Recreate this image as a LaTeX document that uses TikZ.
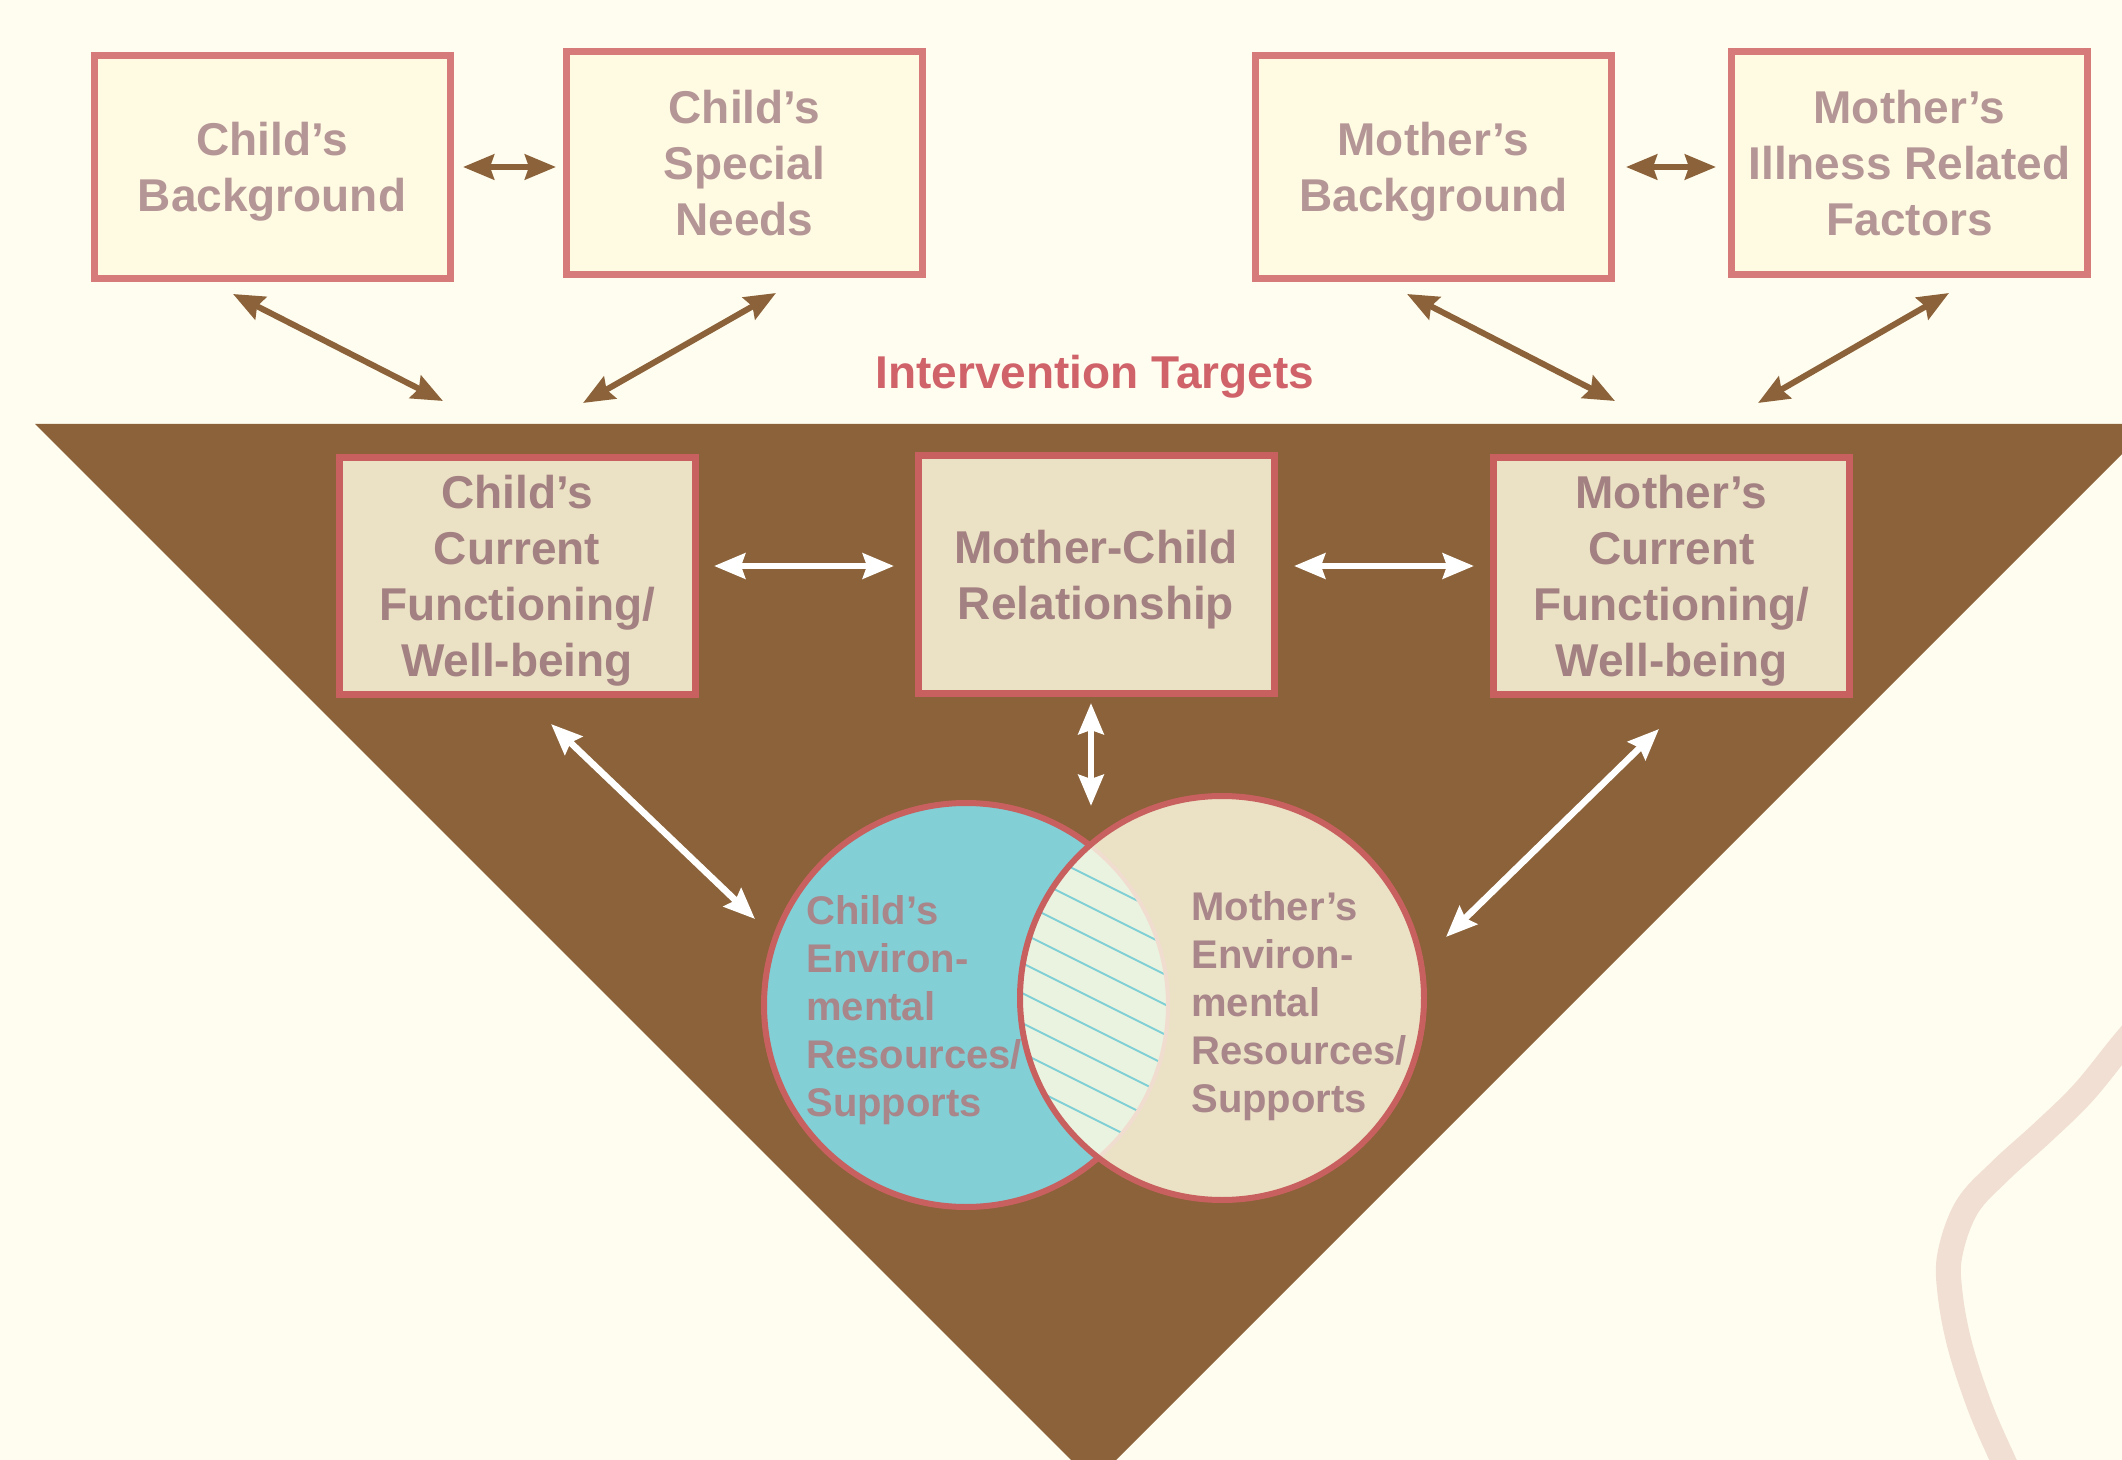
\documentclass[tikz,border=0pt]{standalone}
\usepackage{fontspec}
\setmainfont{Liberation Sans}
\usetikzlibrary{arrows.meta,calc}
\definecolor{bgcol}{HTML}{FFFDEF}
\definecolor{browncol}{HTML}{8B6239}
\definecolor{topred}{HTML}{D77B7A}
\definecolor{topfill}{HTML}{FFFBE3}
\definecolor{toptext}{HTML}{B59696}
\definecolor{midred}{HTML}{C8605F}
\definecolor{midfill}{HTML}{EBE2C5}
\definecolor{midtext}{HTML}{A38081}
\definecolor{titlered}{HTML}{D0626A}
\definecolor{bluecol}{HTML}{82CFD6}
\definecolor{lenscol}{HTML}{EAF3E0}
\definecolor{hatchcol}{HTML}{7ECFD6}
\definecolor{pinkarc}{HTML}{F1DDCF}
\definecolor{circtext}{HTML}{A8868A}
\definecolor{curvecol}{HTML}{F0DFD2}
\tikzset{
  topbox/.style={draw=topred, line width=3.5pt, fill=topfill, text=toptext,
    font=\bfseries\fontsize{23}{28}\selectfont, align=center, inner sep=0pt,
    outer sep=0pt, minimum width=178pt, minimum height=111.5pt},
  midbox/.style={draw=midred, line width=3.5pt, fill=midfill, text=midtext,
    font=\bfseries\fontsize{23}{28}\selectfont, align=center, inner sep=0pt,
    outer sep=0pt, minimum width=178pt, minimum height=118.5pt},
  brarrow/.style={draw=browncol, line width=3pt,
    {Stealth[length=15.5pt,width=12.5pt,inset=2pt]}-{Stealth[length=15.5pt,width=12.5pt,inset=2pt]}},
  warrow/.style={draw=white, line width=3.3pt,
    {Stealth[length=15.5pt,width=12.5pt,inset=2pt]}-{Stealth[length=15.5pt,width=12.5pt,inset=2pt]}},
  circlabel/.style={text=circtext, font=\bfseries\fontsize{20}{24}\selectfont,
    align=left, inner sep=0pt, anchor=west},
  hatchline/.style={draw=hatchcol, line width=1pt}
}
\begin{document}
\begin{tikzpicture}[x=0.5pt,y=-0.5pt]
\useasboundingbox (0,0) rectangle (2122,1460);
\fill[bgcol] (0,0) rectangle (2122,1460);
\clip (0,0) rectangle (2122,1460);
% decorative curve
\draw[curvecol, line width=12.5pt] plot[smooth, tension=0.6] coordinates
  {(2150,1012) (2122,1045) (2083,1093) (2043,1132) (2000,1171) (1967,1207) (1950,1254) (1950,1293) (1960,1346) (1980,1407) (2003,1460) (2015,1485)};
% triangle
\fill[browncol] (35,424) -- (2152,424) -- (1093.5,1482.5) -- cycle;
% title
\node[text=titlered, font=\bfseries\fontsize{23}{28}\selectfont, anchor=base] (title) at (1095,389) {Intervention Targets};
% top boxes
\node[topbox] (cbg) at (272,167) {Child’s\\\smash{Background}};
\node[topbox] (csn) at (744.5,163) {Child’s\\Special\\Needs};
\node[topbox] (mbg) at (1433.5,167) {Mother’s\\\smash{Background}};
\node[topbox] (mil) at (1909.5,163) {Mother’s\\Illness Related\\Factors};
% middle boxes
\node[midbox] (ccur) at (517,576) {Child’s\\Current\\Functioning/\\\smash{Well-being}};
\node[midbox] (mcr) at (1096,574.5) {Mother-Child\\\smash{Relationship}};
\node[midbox] (mcur) at (1671.5,576) {Mother’s\\Current\\Functioning/\\\smash{Well-being}};
% circles
\coordinate (cenv) at (966,1005);
\coordinate (menv) at (1222,998);
\filldraw[fill=bluecol, draw=midred, line width=3pt] (cenv) circle[radius=101pt];
\fill[midfill] (menv) circle[radius=101pt];
\begin{scope}
  \clip (cenv) circle[radius=101pt];
  \clip (menv) circle[radius=101pt];
  \fill[lenscol] (menv) circle[radius=101pt];
  \foreach \yy in {840,870,...,1080}
    \draw[hatchline] (1000,\yy-8) -- (1200,\yy+92);
\end{scope}
\begin{scope}
  \clip (menv) circle[radius=101pt];
  \draw[pinkarc, line width=2pt] (cenv) circle[radius=101pt];
\end{scope}
\draw[midred, line width=3pt] (menv) circle[radius=101pt];
\node[circlabel] (cenvtxt) at (806,1010) {Child’s\\Environ-\\mental\\Resources/\\Supports};
\node[circlabel] (menvtxt) at (1191,1006) {Mother’s\\Environ-\\mental\\Resources/\\Supports};
% brown arrows
\draw[brarrow] ($(cbg)+(191,0)$) -- ($(csn)+(-188.5,4)$);
\draw[brarrow] ($(mbg)+(192.5,0)$) -- ($(mil)+(-193.5,4)$);
\draw[brarrow] ($(cbg)+(-39,127)$) -- ($(ccur)+(-74,-175)$);
\draw[brarrow] ($(csn)+(31.5,130)$) -- ($(ccur)+(66,-173)$);
\draw[brarrow] ($(mbg)+(-26.5,127)$) -- ($(mcur)+(-56.5,-175)$);
\draw[brarrow] ($(mil)+(39.5,130)$) -- ($(mcur)+(86.5,-173)$);
% white arrows
\draw[warrow] ($(ccur)+(197,-10)$) -- ($(mcr)+(-202,-8.5)$);
\draw[warrow] ($(mcr)+(198,-8.5)$) -- ($(mcur)+(-197.5,-10)$);
\draw[warrow] ($(mcr)+(-5,128.5)$) -- ($(menv)+(-131,-192)$);
\draw[warrow] ($(ccur)+(34,148)$) -- ($(cenv)+(-211,-86)$);
\draw[warrow] ($(mcur)+(-12.5,153)$) -- ($(menv)+(224,-61)$);
\end{tikzpicture}
\end{document}
